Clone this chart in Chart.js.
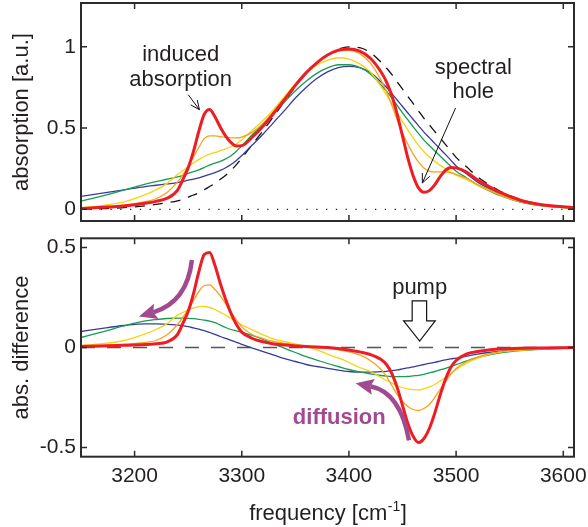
<!DOCTYPE html>
<html>
<head>
<meta charset="utf-8">
<script src="https://cdn.jsdelivr.net/npm/chart.js@4.4.0/dist/chart.umd.min.js"></script>
<style>
  body { margin: 0; background: #fff; width: 588px; height: 527px; overflow: hidden; position: relative; }
  canvas { position: absolute; left: 0; }
  #top { top: 0; }
  #bottom { top: 230px; }
</style>
</head>
<body>
<canvas id="top" width="588" height="230"></canvas>
<canvas id="bottom" width="588" height="297"></canvas>
<script>
// frequency grid (cm-1), denser around the two features
const freq = [3150, 3170, 3190, 3210, 3220, 3230, 3240,
  3245, 3250, 3255, 3260, 3265, 3270, 3275, 3280, 3285, 3290, 3295, 3300,
  3310, 3320, 3330, 3340, 3350, 3360, 3370, 3380, 3390, 3400, 3410, 3420, 3430,
  3435, 3440, 3445, 3450, 3455, 3460, 3465, 3470, 3475, 3480, 3485, 3490, 3495, 3500,
  3510, 3520, 3530, 3540, 3560, 3580, 3610];
const freqRange = [3150, 3610];
const freqTicks = [3200, 3300, 3400, 3500, 3600];
const topTicks = [0, 0.5, 1];
const bottomTicks = [-0.5, 0, 0.5];
const zeroLine = [0, 0];

// top panel: absorption
const groundAbs = [0.000, 0.004, 0.010, 0.022, 0.030, 0.040, 0.052,
  0.062, 0.075, 0.088, 0.102, 0.120, 0.140, 0.160, 0.185, 0.210, 0.240, 0.275, 0.315,
  0.400, 0.485, 0.575, 0.665, 0.755, 0.835, 0.900, 0.950, 0.985, 1.000, 0.995, 0.965, 0.905,
  0.870, 0.830, 0.785, 0.740, 0.695, 0.650, 0.605, 0.560, 0.520, 0.480, 0.440, 0.400, 0.360, 0.320,
  0.260, 0.200, 0.155, 0.115, 0.060, 0.030, 0.010];
const absRed = [0.005, 0.012, 0.021, 0.037, 0.049, 0.067, 0.117,
  0.182, 0.255, 0.358, 0.482, 0.585, 0.615, 0.570, 0.505, 0.450, 0.410, 0.390, 0.392,
  0.445, 0.513, 0.593, 0.677, 0.763, 0.840, 0.902, 0.950, 0.980, 0.987, 0.973, 0.930, 0.845,
  0.785, 0.700, 0.585, 0.450, 0.315, 0.205, 0.130, 0.105, 0.115, 0.150, 0.200, 0.240, 0.258, 0.255,
  0.228, 0.180, 0.143, 0.107, 0.056, 0.028, 0.010];
const absOrange = [0.009, 0.016, 0.025, 0.047, 0.065, 0.102, 0.167,
  0.212, 0.265, 0.323, 0.382, 0.435, 0.452, 0.452, 0.448, 0.443, 0.440, 0.440, 0.445,
  0.475, 0.530, 0.605, 0.685, 0.768, 0.842, 0.902, 0.947, 0.973, 0.978, 0.958, 0.900, 0.795,
  0.725, 0.640, 0.550, 0.470, 0.400, 0.340, 0.290, 0.255, 0.235, 0.230, 0.230, 0.230, 0.225, 0.215,
  0.190, 0.152, 0.123, 0.093, 0.049, 0.024, 0.008];
const absYellow = [0.010, 0.023, 0.045, 0.090, 0.120, 0.158, 0.214,
  0.237, 0.263, 0.286, 0.306, 0.325, 0.340, 0.350, 0.361, 0.372, 0.385, 0.403, 0.428,
  0.488, 0.548, 0.617, 0.695, 0.773, 0.840, 0.888, 0.917, 0.933, 0.925, 0.895, 0.845, 0.755,
  0.705, 0.652, 0.595, 0.540, 0.488, 0.439, 0.393, 0.354, 0.323, 0.295, 0.272, 0.250, 0.230, 0.210,
  0.183, 0.147, 0.120, 0.091, 0.047, 0.022, 0.007];
const absGreen = [0.050, 0.082, 0.118, 0.155, 0.170, 0.185, 0.199,
  0.209, 0.221, 0.232, 0.243, 0.257, 0.272, 0.284, 0.295, 0.310, 0.330, 0.358, 0.391,
  0.460, 0.525, 0.592, 0.661, 0.730, 0.789, 0.837, 0.870, 0.890, 0.890, 0.873, 0.833, 0.765,
  0.727, 0.685, 0.639, 0.594, 0.550, 0.508, 0.466, 0.426, 0.393, 0.360, 0.328, 0.296, 0.265, 0.234,
  0.193, 0.150, 0.117, 0.087, 0.044, 0.021, 0.007];
const absBlue = [0.080, 0.100, 0.120, 0.140, 0.148, 0.156, 0.164,
  0.171, 0.179, 0.186, 0.194, 0.204, 0.215, 0.226, 0.240, 0.256, 0.276, 0.301, 0.331,
  0.397, 0.464, 0.537, 0.609, 0.685, 0.750, 0.805, 0.846, 0.872, 0.880, 0.872, 0.842, 0.784,
  0.751, 0.714, 0.673, 0.633, 0.593, 0.553, 0.514, 0.475, 0.441, 0.406, 0.372, 0.338, 0.303, 0.267,
  0.217, 0.167, 0.130, 0.096, 0.049, 0.024, 0.008];

// bottom panel: absorption difference
const diffRed = [0.005, 0.008, 0.011, 0.015, 0.019, 0.027, 0.065,
  0.120, 0.180, 0.270, 0.380, 0.465, 0.475, 0.410, 0.320, 0.240, 0.170, 0.115, 0.077,
  0.045, 0.028, 0.018, 0.012, 0.008, 0.005, 0.002, 0.000, -0.005, -0.013, -0.022, -0.035, -0.060,
  -0.085, -0.130, -0.200, -0.290, -0.380, -0.445, -0.475, -0.455, -0.405, -0.330, -0.240, -0.160, -0.100, -0.065,
  -0.032, -0.020, -0.012, -0.008, -0.004, -0.002, 0.000];
const diffOrange = [0.009, 0.012, 0.015, 0.025, 0.035, 0.062, 0.115,
  0.150, 0.190, 0.235, 0.280, 0.310, 0.313, 0.290, 0.258, 0.218, 0.178, 0.138, 0.103,
  0.064, 0.045, 0.030, 0.020, 0.013, 0.007, 0.002, -0.003, -0.012, -0.022, -0.037, -0.065, -0.110,
  -0.145, -0.190, -0.235, -0.270, -0.295, -0.310, -0.315, -0.305, -0.285, -0.250, -0.210, -0.170, -0.135, -0.105,
  -0.070, -0.048, -0.032, -0.022, -0.011, -0.006, -0.002];
const diffYellow = [0.010, 0.019, 0.035, 0.068, 0.090, 0.118, 0.162,
  0.175, 0.188, 0.198, 0.204, 0.205, 0.200, 0.190, 0.176, 0.162, 0.145, 0.128, 0.113,
  0.088, 0.063, 0.042, 0.030, 0.018, 0.005, -0.012, -0.033, -0.052, -0.075, -0.100, -0.120, -0.150,
  -0.165, -0.178, -0.190, -0.200, -0.207, -0.211, -0.212, -0.206, -0.197, -0.185, -0.168, -0.150, -0.130, -0.110,
  -0.077, -0.053, -0.035, -0.024, -0.013, -0.008, -0.003];
const diffGreen = [0.050, 0.078, 0.108, 0.133, 0.140, 0.145, 0.147,
  0.147, 0.146, 0.144, 0.141, 0.137, 0.132, 0.124, 0.112, 0.100, 0.090, 0.083, 0.076,
  0.060, 0.040, 0.017, -0.004, -0.025, -0.046, -0.063, -0.080, -0.095, -0.110, -0.122, -0.132, -0.140,
  -0.143, -0.145, -0.146, -0.146, -0.145, -0.142, -0.139, -0.134, -0.127, -0.120, -0.112, -0.104, -0.095, -0.086,
  -0.067, -0.050, -0.038, -0.028, -0.016, -0.009, -0.003];
const diffBlue = [0.080, 0.096, 0.110, 0.118, 0.118, 0.116, 0.112,
  0.109, 0.104, 0.098, 0.092, 0.084, 0.075, 0.066, 0.055, 0.046, 0.036, 0.026, 0.016,
  -0.003, -0.021, -0.038, -0.056, -0.070, -0.085, -0.095, -0.104, -0.113, -0.120, -0.123, -0.123, -0.121,
  -0.119, -0.116, -0.112, -0.107, -0.102, -0.097, -0.091, -0.085, -0.079, -0.074, -0.068, -0.062, -0.057, -0.053,
  -0.043, -0.033, -0.025, -0.019, -0.011, -0.006, -0.002];

const colRed = "#ee1c25", colOrange = "#f7a21b", colYellow = "#f5d410",
      colGreen = "#179c52", colBlue = "#383c98", purple = "#a24a8f", ink = "#231f20";
const FONT = "'Liberation Sans', Arial, Helvetica, sans-serif";

Chart.defaults.font.family = FONT;
Chart.defaults.color = ink;

const pts = ys => freq.map((x, i) => ({ x: x, y: ys[i] }));
const flat = ys => freqRange.map((x, i) => ({ x: x, y: ys[i] }));

const line = (data, color, width, dash) => ({
  data: data, borderColor: color, borderWidth: width, borderDash: dash || [],
  pointRadius: 0, fill: false, cubicInterpolationMode: "monotone", borderJoinStyle: "round"
});

// drop the label overhang padding so the plot box lands where we want it
const noPad = s => { s.paddingTop = 0; s.paddingBottom = 0; s.paddingLeft = 0; s.paddingRight = 0; };

// box + inward ticks on every side
const frame = {
  id: "frame",
  afterDatasetsDraw(chart, args, opts) {
    const { ctx, chartArea: a, scales } = chart;
    ctx.save();
    ctx.strokeStyle = "#2b2b2b";
    ctx.lineWidth = 1.5;
    ctx.beginPath();
    freqTicks.forEach(v => {
      const px = scales.x.getPixelForValue(v);
      ctx.moveTo(px, a.bottom); ctx.lineTo(px, a.bottom - 6);
      ctx.moveTo(px, a.top); ctx.lineTo(px, a.top + 6);
    });
    opts.yTicks.forEach(v => {
      const py = scales.y.getPixelForValue(v);
      ctx.moveTo(a.left, py); ctx.lineTo(a.left + 6, py);
      ctx.moveTo(a.right, py); ctx.lineTo(a.right - 6, py);
    });
    ctx.stroke();
    ctx.lineWidth = 2;
    ctx.strokeRect(a.left, a.top, a.right - a.left, a.bottom - a.top);
    ctx.restore();
  }
};

function at(chart, f, v) {
  return [chart.scales.x.getPixelForValue(f), chart.scales.y.getPixelForValue(v)];
}

function openArrow(ctx, p0, p1) {
  const a = Math.atan2(p1[1] - p0[1], p1[0] - p0[0]);
  const len = 10, spread = 0.42;
  ctx.beginPath();
  ctx.moveTo(p0[0], p0[1]); ctx.lineTo(p1[0], p1[1]);
  ctx.moveTo(p1[0] - len * Math.cos(a - spread), p1[1] - len * Math.sin(a - spread));
  ctx.lineTo(p1[0], p1[1]);
  ctx.lineTo(p1[0] - len * Math.cos(a + spread), p1[1] - len * Math.sin(a + spread));
  ctx.stroke();
}

function curvedArrow(ctx, p0, c, p1) {
  ctx.strokeStyle = purple;
  ctx.fillStyle = purple;
  ctx.lineWidth = 4.5;
  ctx.beginPath();
  ctx.moveTo(p0[0], p0[1]);
  ctx.quadraticCurveTo(c[0], c[1], p1[0], p1[1]);
  ctx.stroke();
  const a = Math.atan2(p1[1] - c[1], p1[0] - c[0]);
  const L = 15, W = 8;
  ctx.beginPath();
  ctx.moveTo(p1[0] + L * Math.cos(a), p1[1] + L * Math.sin(a));
  ctx.lineTo(p1[0] - W * Math.sin(a) - 3 * Math.cos(a), p1[1] + W * Math.cos(a) - 3 * Math.sin(a));
  ctx.lineTo(p1[0], p1[1]);
  ctx.lineTo(p1[0] + W * Math.sin(a) - 3 * Math.cos(a), p1[1] - W * Math.cos(a) - 3 * Math.sin(a));
  ctx.closePath();
  ctx.fill();
}

const topNotes = {
  id: "topNotes",
  afterDraw(chart) {
    const ctx = chart.ctx;
    ctx.save();
    ctx.font = "22px " + FONT;
    ctx.fillStyle = ink;
    ctx.textAlign = "center";
    ctx.textBaseline = "middle";
    let p = at(chart, 3243, 0.953); ctx.fillText("induced", p[0], p[1]);
    p = at(chart, 3243, 0.799); ctx.fillText("absorption", p[0], p[1]);
    p = at(chart, 3516, 0.872); ctx.fillText("spectral", p[0], p[1]);
    p = at(chart, 3516, 0.724); ctx.fillText("hole", p[0], p[1]);
    ctx.strokeStyle = "#111";
    ctx.lineWidth = 1;
    openArrow(ctx, at(chart, 3250, 0.706), at(chart, 3260.5, 0.613));
    openArrow(ctx, at(chart, 3499.5, 0.624), at(chart, 3468.5, 0.162));
    ctx.restore();
  }
};

const bottomNotes = {
  id: "bottomNotes",
  afterDraw(chart) {
    const { ctx, chartArea: a } = chart;
    ctx.save();
    ctx.font = "22px " + FONT;
    ctx.fillStyle = ink;
    ctx.textAlign = "center";
    ctx.textBaseline = "middle";
    let p = at(chart, 3466, 0.30); ctx.fillText("pump", p[0], p[1]);

    // pump block arrow
    const arrow = [[3459, 0.233], [3472.5, 0.233], [3472.5, 0.133], [3480.5, 0.133],
                   [3466, 0.032], [3451, 0.133], [3459, 0.133]];
    ctx.beginPath();
    arrow.forEach((q, i) => {
      const r = at(chart, q[0], q[1]);
      if (i === 0) ctx.moveTo(r[0], r[1]); else ctx.lineTo(r[0], r[1]);
    });
    ctx.closePath();
    ctx.fillStyle = "#fff";
    ctx.fill();
    ctx.strokeStyle = "#111";
    ctx.lineWidth = 1.2;
    ctx.stroke();

    ctx.font = "bold 22px " + FONT;
    ctx.fillStyle = purple;
    p = at(chart, 3391, -0.354); ctx.fillText("diffusion", p[0], p[1]);

    curvedArrow(ctx, at(chart, 3253.5, 0.437), at(chart, 3249, 0.226), at(chart, 3217.5, 0.176));
    curvedArrow(ctx, at(chart, 3456, -0.464), at(chart, 3448, -0.224), at(chart, 3420, -0.194));

    // x axis title with superscript
    ctx.fillStyle = ink;
    ctx.textAlign = "left";
    ctx.textBaseline = "alphabetic";
    const main = "frequency [cm", sup = "-1", end = "]";
    ctx.font = "22px " + FONT;
    const w1 = ctx.measureText(main).width, w3 = ctx.measureText(end).width;
    ctx.font = "14px " + FONT;
    const w2 = ctx.measureText(sup).width;
    const cx = (a.left + a.right) / 2, base = a.bottom + 63;
    let x0 = cx - (w1 + w2 + w3) / 2;
    ctx.font = "22px " + FONT;
    ctx.fillText(main, x0, base);
    ctx.font = "14px " + FONT;
    ctx.fillText(sup, x0 + w1 + 0.5, base - 9);
    ctx.font = "22px " + FONT;
    ctx.fillText(end, x0 + w1 + w2 + 1, base);
    ctx.restore();
  }
};

const yTitle = text => ({ display: true, text: text, font: { size: 22 }, color: ink, padding: { top: 9, bottom: 0 } });

new Chart(document.getElementById("top"), {
  type: "line",
  data: {
    datasets: [
      line(pts(absRed), colRed, 3),
      line(pts(absOrange), colOrange, 1.3),
      line(pts(absYellow), colYellow, 1.3),
      line(pts(absGreen), colGreen, 1.3),
      line(pts(absBlue), colBlue, 1.3),
      line(pts(groundAbs), "#111", 1.3, [10, 8]),
      line(flat(zeroLine), "#222", 1.3, [1.3, 8.5])
    ]
  },
  options: {
    responsive: false,
    animation: false,
    layout: { padding: { top: 3, right: 14, bottom: 9, left: 0 } },
    plugins: { legend: { display: false }, tooltip: { enabled: false }, frame: { yTicks: topTicks } },
    scales: {
      x: { type: "linear", min: freqRange[0], max: freqRange[1], display: false },
      y: {
        min: -0.072, max: 1.27,
        grid: { display: false, drawTicks: false },
        border: { display: false },
        afterBuildTicks: s => { s.ticks = topTicks.map(v => ({ value: v })); },
        afterFit: s => { s.width = 81; noPad(s); },
        ticks: { font: { size: 21 }, color: ink, padding: 5, callback: v => String(v) },
        title: yTitle("absorption [a.u.]")
      }
    }
  },
  plugins: [frame, topNotes]
});

new Chart(document.getElementById("bottom"), {
  type: "line",
  data: {
    datasets: [
      line(pts(diffRed), colRed, 3),
      line(pts(diffOrange), colOrange, 1.3),
      line(pts(diffYellow), colYellow, 1.3),
      line(pts(diffGreen), colGreen, 1.3),
      line(pts(diffBlue), colBlue, 1.3),
      line(flat(zeroLine), "#555", 1.5, [14, 12])
    ]
  },
  options: {
    responsive: false,
    animation: false,
    layout: { padding: { top: 8.3, right: 14, bottom: 0, left: 0 } },
    plugins: { legend: { display: false }, tooltip: { enabled: false }, frame: { yTicks: bottomTicks } },
    scales: {
      x: {
        type: "linear", min: freqRange[0], max: freqRange[1],
        grid: { display: false, drawTicks: false },
        border: { display: false },
        afterBuildTicks: s => { s.ticks = freqTicks.map(v => ({ value: v })); },
        afterFit: s => { s.height = 70.3; noPad(s); },
        ticks: { font: { size: 21 }, color: ink, padding: 7, maxRotation: 0, callback: v => String(v) }
      },
      y: {
        min: -0.546, max: 0.546,
        grid: { display: false, drawTicks: false },
        border: { display: false },
        afterBuildTicks: s => { s.ticks = bottomTicks.map(v => ({ value: v })); },
        afterFit: s => { s.width = 81; noPad(s); },
        ticks: { font: { size: 21 }, color: ink, padding: 5, callback: v => String(v) },
        title: yTitle("abs. difference")
      }
    }
  },
  plugins: [frame, bottomNotes]
});
</script>
</body>
</html>
